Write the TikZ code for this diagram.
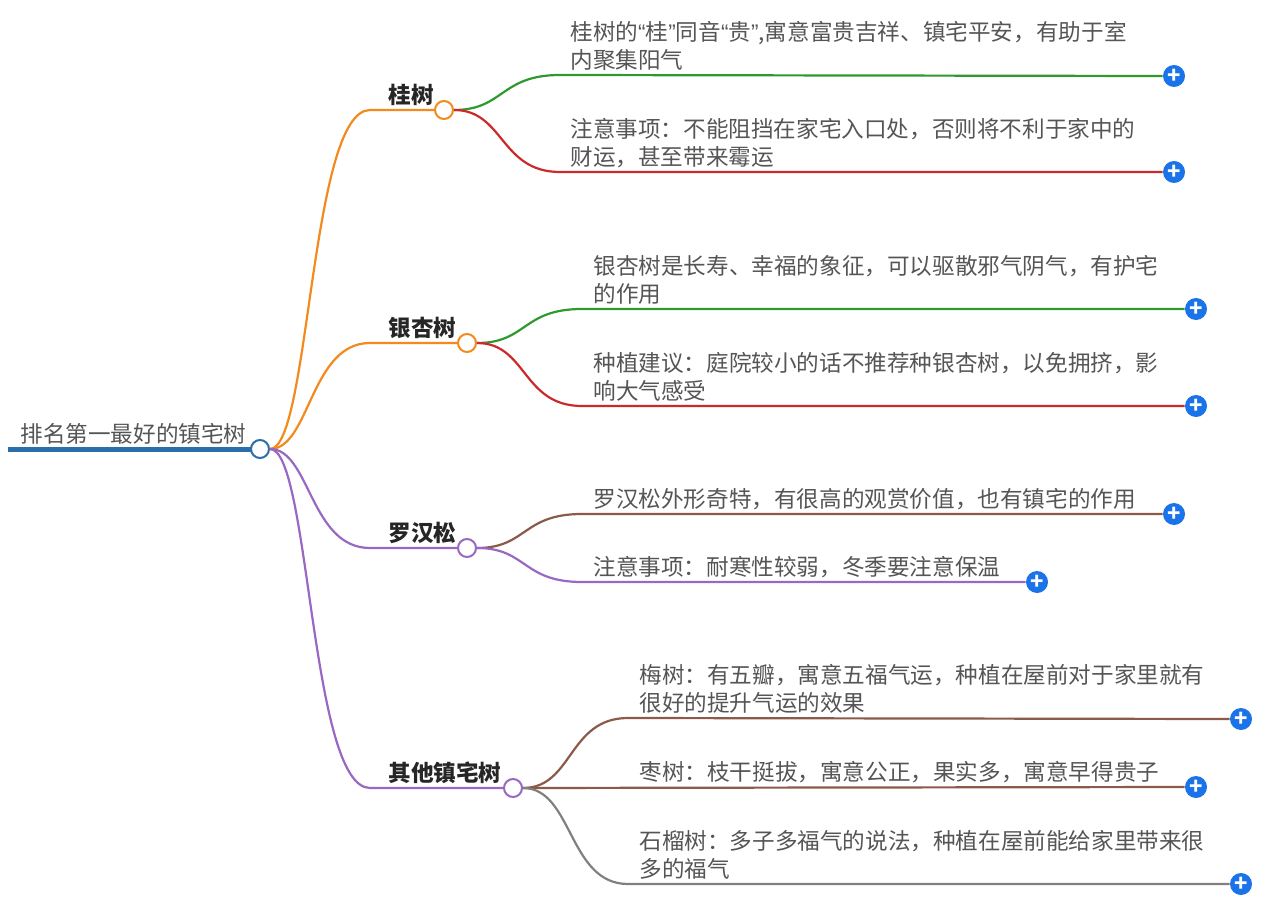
\documentclass[tikz,border=0pt]{standalone}
\usepackage{fontspec}
\setmainfont{Noto Sans CJK SC}
\newfontfamily\latinq{Liberation Sans}
\newcommand{\oq}{{\latinq “}}
\newcommand{\cq}{{\latinq ”}}
\definecolor{rootblue}{HTML}{2A6EAA}
\definecolor{morange}{HTML}{F28A1E}
\definecolor{mgreen}{HTML}{2E9A2E}
\definecolor{mred}{HTML}{CC2A2A}
\definecolor{mpurple}{HTML}{9A68C2}
\definecolor{mbrown}{HTML}{8B5A4A}
\definecolor{mgray}{HTML}{808080}
\definecolor{plusblue}{HTML}{1A73E8}
\definecolor{txt}{HTML}{555555}
\begin{document}
\begin{tikzpicture}[
  x=0.5pt, y=-0.5pt,
  hub/.style={circle, draw=#1, fill=white, line width=1pt, minimum size=9pt, inner sep=0pt},
  plus/.style={circle, fill=plusblue, text=white, minimum size=11pt, inner sep=0pt, font=\bfseries\fontsize{11}{11}\selectfont},
  leaf/.style={anchor=south west, inner sep=0pt, align=left, text=txt, font=\fontsize{11.3}{14}\selectfont},
  branch/.style={anchor=south west, inner sep=0pt, text=black!85, font=\bfseries\fontsize{11.3}{13}\selectfont},
  wire/.style={line width=1.1pt}
]
\useasboundingbox (0,0) rectangle (1288,914);

% root
\node[leaf, font=\fontsize{11.3}{13}\selectfont] (root_txt) at (20,445) {排名第一最好的镇宅树};
\coordinate (root_l) at (8,449);
\draw[rootblue, line width=2.5pt] (root_l) -- (252,449);
\node[hub=rootblue] (root) at (260,449) {};

% branches
\coordinate (gui_l) at (370,110);
\coordinate (yin_l) at (370,343);
\coordinate (luo_l) at (370,548);
\coordinate (qi_l) at (370,788);
\node[hub=morange] (gui) at (444,110) {};
\node[hub=morange] (yin) at (467,343) {};
\node[hub=mpurple] (luo) at (467,548) {};
\node[hub=mpurple] (qi) at (513,788) {};
\node[branch] (gui_txt) at (388,106) {桂树};
\node[branch] (yin_txt) at (388,339) {银杏树};
\node[branch] (luo_txt) at (388,544) {罗汉松};
\node[branch] (qi_txt) at (388,784) {其他镇宅树};

\draw[wire, morange] (root) .. controls +(50,0) and +(-60,0) .. (gui_l) -- (gui);
\draw[wire, morange] (root) .. controls +(50,0) and +(-60,0) .. (yin_l) -- (yin);
\draw[wire, mpurple] (root) .. controls +(50,0) and +(-60,0) .. (luo_l) -- (luo);
\draw[wire, mpurple] (root) .. controls +(50,0) and +(-60,0) .. (qi_l) -- (qi);

% leaves of 桂树
\node[plus] (p1) at (1174,76) {+};
\node[plus] (p2) at (1174,172) {+};
\draw[wire, mgreen] (gui) .. controls +(60,0) and +(-60,0) .. (560,75) -- (p1.west);
\draw[wire, mred] (gui) .. controls +(60,0) and +(-60,0) .. (560,172) -- (p2.west);
\node[leaf] (l1) at (570,71) {桂树的\oq 桂\cq 同音\oq 贵\cq ,寓意富贵吉祥、镇宅平安，有助于室\\内聚集阳气};
\node[leaf] (l2) at (570,168) {注意事项：不能阻挡在家宅入口处，否则将不利于家中的\\财运，甚至带来霉运};

% leaves of 银杏树
\node[plus] (p3) at (1196,309) {+};
\node[plus] (p4) at (1196,406) {+};
\draw[wire, mgreen] (yin) .. controls +(60,0) and +(-60,0) .. (582,309) -- (p3.west);
\draw[wire, mred] (yin) .. controls +(60,0) and +(-60,0) .. (582,406) -- (p4.west);
\node[leaf] (l3) at (593,305) {银杏树是长寿、幸福的象征，可以驱散邪气阴气，有护宅\\的作用};
\node[leaf] (l4) at (593,402) {种植建议：庭院较小的话不推荐种银杏树，以免拥挤，影\\响大气感受};

% leaves of 罗汉松
\node[plus] (p5) at (1174,514) {+};
\node[plus] (p6) at (1037,582) {+};
\draw[wire, mbrown] (luo) .. controls +(60,0) and +(-60,0) .. (582,514) -- (p5.west);
\draw[wire, mpurple] (luo) .. controls +(60,0) and +(-60,0) .. (582,582) -- (p6.west);
\node[leaf] (l5) at (593,510) {罗汉松外形奇特，有很高的观赏价值，也有镇宅的作用};
\node[leaf] (l6) at (593,578) {注意事项：耐寒性较弱，冬季要注意保温};

% leaves of 其他镇宅树
\node[plus] (p7) at (1241,719) {+};
\node[plus] (p8) at (1196,787) {+};
\node[plus] (p9) at (1241,884) {+};
\draw[wire, mbrown] (qi) .. controls +(60,0) and +(-60,0) .. (628,718) -- (p7.west);
\draw[wire, mbrown] (qi) -- (p8.west);
\draw[wire, mgray] (qi) .. controls +(60,0) and +(-60,0) .. (628,884) -- (p9.west);
\node[leaf] (l7) at (639,714) {梅树：有五瓣，寓意五福气运，种植在屋前对于家里就有\\很好的提升气运的效果};
\node[leaf] (l8) at (639,783) {枣树：枝干挺拔，寓意公正，果实多，寓意早得贵子};
\node[leaf] (l9) at (639,880) {石榴树：多子多福气的说法，种植在屋前能给家里带来很\\多的福气};
\end{tikzpicture}
\end{document}
